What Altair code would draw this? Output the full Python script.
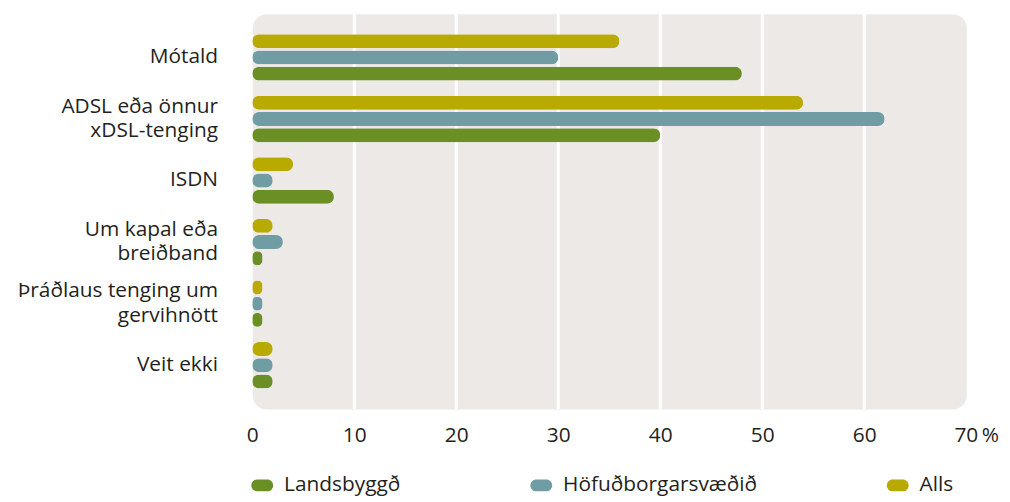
import altair as alt
import pandas as pd

categories = ["Mótald", "ADSL eða önnur|xDSL-tenging", "ISDN", "Um kapal eða|breiðband",
              "Þráðlaus tenging um|gervihnött", "Veit ekki"]
series = ["Landsbyggð", "Höfuðborgarsvæðið", "Alls"]
landsbyggd = [48, 40, 8, 1, 1, 2]
hofud = [30, 62, 2, 3, 1, 2]
alls = [36, 54, 4, 2, 1, 2]
colors = ["#6A8F25", "#709CA4", "#B8AA00"]
grid_values = [10, 20, 30, 40, 50, 60]
tick_values = [0, 10, 20, 30, 40, 50, 60, 70]

rows = []
for i, c in enumerate(categories):
    for s, vals in zip(series, [landsbyggd, hofud, alls]):
        rows.append({"cat": c, "series": s, "value": vals[i]})
df = pd.DataFrame(rows)
grid_df = pd.DataFrame({"g": grid_values})

FONT = "Open Sans"
TXT = "#231F20"
FS = 21

x_scale = alt.Scale(domain=[0, 70], nice=False, zero=True)
x_axis = alt.Axis(values=tick_values, title=None, grid=False, domain=False, ticks=False,
                  labelFont=FONT, labelFontSize=FS, labelColor=TXT, labelPadding=16,
                  labelFlush=False,
                  labelExpr="datum.value == 70 ? '70\u2009%' : datum.label",
                  labelOffset={"condition": {"test": "datum.value == 70", "value": 10}, "value": 0})

grid = alt.Chart(grid_df).mark_rule(color="white", strokeWidth=3).encode(
    x=alt.X("g:Q", scale=x_scale, axis=x_axis)
)

pill = "M-0.455,-0.545 L0.455,-0.545 A0.545,0.545 0 0 1 0.455,0.545 L-0.455,0.545 A0.545,0.545 0 0 1 -0.455,-0.545 Z"

bars = alt.Chart(df).mark_bar(cornerRadius=7).encode(
    x=alt.X("value:Q", scale=x_scale, axis=x_axis),
    y=alt.Y("cat:N", sort=categories,
            scale=alt.Scale(paddingInner=0.2, paddingOuter=0.31),
            axis=alt.Axis(title=None, domain=False, ticks=False, labelFont=FONT, labelFontSize=FS,
                          labelColor=TXT, labelPadding=35, labelLimit=400, labelLineHeight=25,
                          labelExpr="split(datum.label, '|')",
                          labelOffset={"condition": {"test": "indexof(datum.label, '|') >= 0", "value": -12.5},
                                       "value": 0})),
    yOffset=alt.YOffset("series:N", sort=["Alls", "Höfuðborgarsvæðið", "Landsbyggð"],
                        scale=alt.Scale(paddingInner=0.14, paddingOuter=0.09)),
    color=alt.Color("series:N", scale=alt.Scale(domain=series, range=colors),
                    legend=alt.Legend(title=None, orient="none", direction="horizontal",
                                      legendX=-1, legendY=464, columns=3, columnPadding=130,
                                      symbolType=pill, symbolSize=484, symbolStrokeWidth=0,
                                      symbolOpacity=1, labelOffset=11, labelLimit=400,
                                      labelFont=FONT, labelFontSize=FS, labelColor=TXT,
                                      padding=0)),
)

chart = alt.layer(grid, bars).properties(
    width=719, height=398,
    autosize=alt.AutoSizeParams(type="none"),
    padding={"left": 246, "top": 4, "right": 36, "bottom": 92},
).configure_view(
    fill="#EDE9E7", cornerRadius=14, stroke="transparent"
)

chart.save("out.html", embed_options={"renderer": "svg", "actions": False})
